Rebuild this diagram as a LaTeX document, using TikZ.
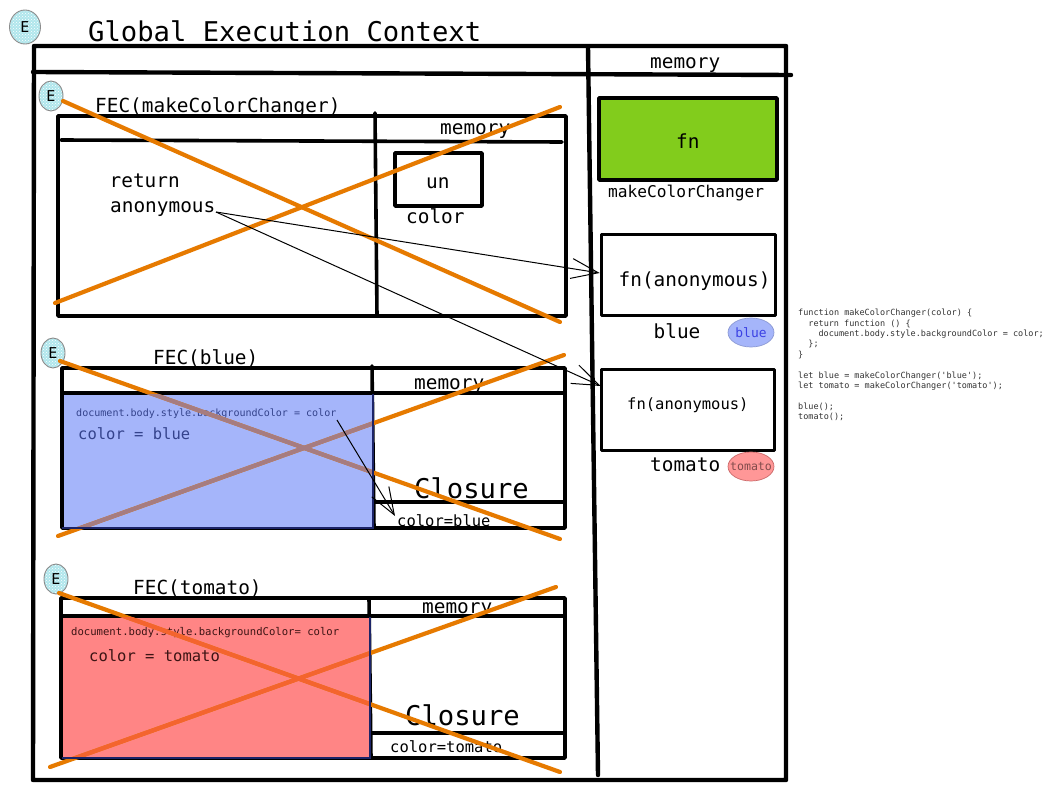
\documentclass[tikz,border=0pt]{standalone}
\usepackage{fontspec}
\setmainfont{DejaVu Sans Mono}
\newfontfamily\codefont{DejaVu Sans Mono}
\usetikzlibrary{arrows.meta,patterns,shapes.geometric}
\definecolor{crossorange}{HTML}{E67A00}
\definecolor{crossblue}{HTML}{A67C80}
\definecolor{crossred}{HTML}{F4642E}
\definecolor{bluefill}{HTML}{A5B5FA}
\definecolor{redfill}{HTML}{FF8585}
\definecolor{greenfill}{HTML}{82CC1C}
\definecolor{badgecyan}{HTML}{B0E6EC}
\definecolor{bluetext}{HTML}{34438C}
\definecolor{redtext}{HTML}{3C1414}
\definecolor{boxedge}{HTML}{1C2468}
\tikzset{
 x=1pt,y=-1pt,
 frame/.style={draw=black,line width=4.4pt,line join=round,line cap=round},
 thinframe/.style={draw=black,line width=3.6pt,line join=round,line cap=round},
 cross/.style={draw=crossorange,line width=4.2pt,line cap=round},
 flink/.style={draw=black,line width=1pt,-{Straight Barb[length=27pt,width=20pt,line width=1pt]}},
 lbl/.style={inner sep=0pt,anchor=base west,text=black,font=\fontsize{19.4}{19.4}\selectfont},
 lblsmall/.style={lbl,font=\fontsize{15.5}{15.5}\selectfont},
 lblbig/.style={lbl,font=\fontsize{27.2}{27.2}\selectfont},
 codeline/.style={inner sep=0pt,anchor=base west,text=black!80,font=\codefont\fontsize{8.5}{8.5}\selectfont},
 badge/.style={ellipse,draw=black!45,line width=.9pt,minimum width=24pt,minimum height=30pt,inner sep=0pt,
   preaction={fill=badgecyan},pattern=crosshatch dots,pattern color=white,font=\fontsize{15}{15}\selectfont},
 pill/.style={ellipse,line width=.7pt,minimum width=46pt,minimum height=29pt,inner sep=-14pt},
}
\begin{document}
\begin{tikzpicture}
\useasboundingbox (0,0) rectangle (1053,789);
\fill[white] (0,0) rectangle (1053,789);

% ---- outer frame
\draw[frame] (34,46) -- (786,46) -- (786,780) -- (33,780) -- cycle;
\draw[frame] (33,72) -- (791,75);
\draw[frame] (588,47) -- (598,775);
\node[lblbig] (gec) at (88,42) {Global Execution Context};
\node[lbl] (gm) at (650,69) {memory};
\node[badge,minimum width=31pt,minimum height=34pt] (e0) at (25,27) {E};

% ---- FEC(makeColorChanger)
\draw[thinframe] (58,116) rectangle (566,316);
\draw[thinframe] (61,140) -- (562,142);
\draw[thinframe] (375,113) -- (377,316);
\node[lbl] (f1) at (95,113) {FEC(makeColorChanger)};
\node[lbl] (m1) at (440,135) {memory};
\draw[thinframe] (395,153) rectangle (482,206);
\node[lbl] (un) at (426,189) {un};
\node[lbl] (c1) at (406,223) {color};
\node[lbl] (ret) at (109.5,188) {return};
\node[lbl] (anon) at (110,212) {anonymous};
\coordinate (a1) at (216,212);
\node[badge] (e1) at (51,96) {E};
\draw[cross] (63,101) -- (560,322);
\draw[cross] (55,303) -- (560,107);

% ---- right column
\draw[thinframe,fill=greenfill] (599,98) rectangle (777,180);
\node[lbl] (fn) at (676,149) {fn};
\node[lbl,font=\fontsize{16.2}{16.2}\selectfont] (mcc) at (608,197) {makeColorChanger};
\node[thinframe,rectangle,minimum width=174pt,minimum height=81pt,inner sep=0pt] (box1) at (688.5,275) {};
\node[lbl] (fa1) at (618.5,286) {fn(anonymous)};
\node[lbl] (b1) at (653.5,338) {blue};
\node[pill,fill=bluefill,draw=bluefill!85!black,text=blue!60!bluefill!90!black,font=\fontsize{12.9}{12.9}\selectfont] (pb) at (751,332.5) {blue};
\node[thinframe,rectangle,minimum width=173pt,minimum height=81pt,inner sep=0pt] (box2) at (688,410) {};
\node[lbl,font=\fontsize{15.5}{15.5}\selectfont] (fa2) at (627,409) {fn(anonymous)};
\node[lbl] (t1) at (650,471) {tomato};
\node[pill,fill=redfill!85,draw=redfill!80!black,text=red!30!black!70,font=\fontsize{11.6}{11.6}\selectfont] (pt) at (751,466.5) {tomato};

% ---- FEC(blue)
\node[lbl] (f2) at (153,364) {FEC(blue)};
\draw[thinframe] (62,368) rectangle (565,528);
\draw[thinframe] (62,393) -- (565,393);
\draw[thinframe] (372,366) -- (374,528);
\draw[thinframe] (374,502) -- (565,502);
\fill[bluefill] (63.5,394.5) rectangle (373,527);
\node[lbl] (m2) at (414,389) {memory};
\node[lblbig] (cl1) at (414,498) {Closure};
\node[lblsmall] (cb) at (397,526) {color=blue};
\node[lbl,text=bluetext,font=\fontsize{10.05}{10.05}\selectfont] (d1) at (76,416) {document.body.style.backgroundColor = color};
\node[lblsmall,text=bluetext] (cb2) at (78,439) {color = blue};
\node[badge] (e2) at (53,353) {E};
\draw[cross] (60,361) -- (560,539);
\draw[cross] (58,536) -- (564,355);
\begin{scope}
 \clip (63.5,394.5) rectangle (373,528);
 \draw[cross,draw=crossblue] (60,361) -- (560,539);
 \draw[cross,draw=crossblue] (58,536) -- (564,355);
\end{scope}
\draw[draw=boxedge,line width=1.8pt] (373,394) -- (373,528) -- (62,528);

% ---- FEC(tomato)
\node[lbl] (f3) at (133,594) {FEC(tomato)};
\draw[thinframe] (61,598) rectangle (565,758);
\draw[thinframe] (61,616) -- (565,616);
\draw[thinframe] (369,598) -- (371,758);
\draw[thinframe] (371,733) -- (565,733);
\fill[redfill] (62.5,617.5) rectangle (370,757);
\node[lbl] (m3) at (422,613) {memory};
\node[lblbig] (cl2) at (405,725) {Closure};
\node[lblsmall] (ct) at (390,752) {color=tomato};
\node[lbl,text=redtext,font=\fontsize{10.6}{10.6}\selectfont] (d2) at (71,635) {document.body.style.backgroundColor= color};
\node[lblsmall,text=redtext] (ct2) at (89,661) {color = tomato};
\node[badge] (e3) at (56,579) {E};
\draw[cross] (59,593) -- (560,772);
\draw[cross] (50,767) -- (556,587);
\begin{scope}
 \clip (62.5,617.5) rectangle (370,758);
 \draw[cross,draw=crossred] (59,593) -- (560,772);
 \draw[cross,draw=crossred] (50,767) -- (556,587);
\end{scope}
\draw[draw=boxedge,line width=1.6pt] (370,617) -- (370,758) -- (62,758);

% ---- code
\node[codeline] (c1l) at (798,315.6) {function makeColorChanger(color) \{};
\node[codeline] (c2l) at (808.2,326) {return function () \{};
\node[codeline] (c3l) at (818.4,336.4) {document.body.style.backgroundColor = color;};
\node[codeline] (c4l) at (808.2,346.8) {\};};
\node[codeline] (c5l) at (798,357.2) {\}};
\node[codeline] (c6l) at (798,378) {let blue = makeColorChanger('blue');};
\node[codeline] (c7l) at (798,388.4) {let tomato = makeColorChanger('tomato');};
\node[codeline] (c8l) at (798,409.2) {blue();};
\node[codeline] (c9l) at (798,419.6) {tomato();};

% ---- links
\coordinate (t1end) at ([yshift=2pt]box1.west);
\coordinate (t2end) at ([xshift=1pt,yshift=24pt]box2.west);
\coordinate (a2) at (337,420);
\coordinate (a3) at (395,516);
\draw[flink] (a1) -- (t1end);
\draw[flink] (a1) -- (t2end);
\draw[flink] (a2) -- (a3);
\end{tikzpicture}
\end{document}
